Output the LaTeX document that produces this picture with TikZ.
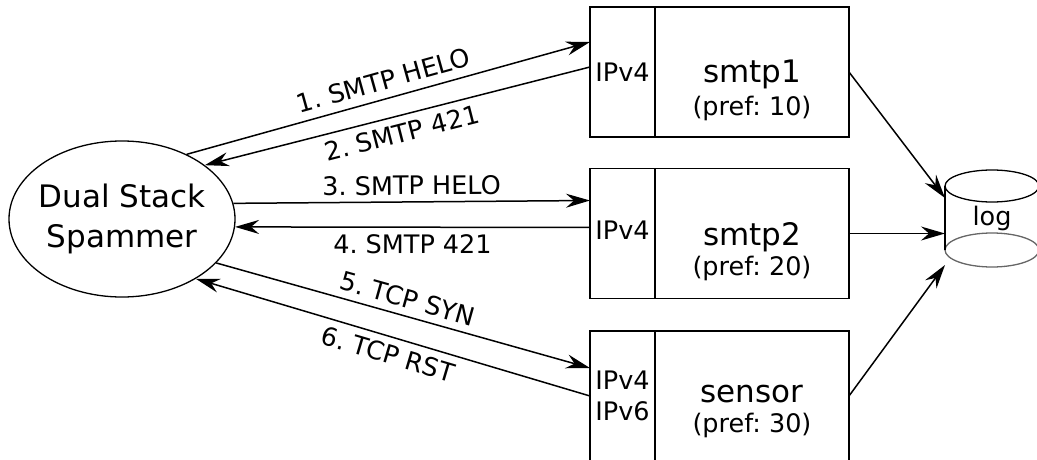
\documentclass[tikz,border=0pt]{standalone}
\usepackage{fontspec}
\setmainfont{DejaVu Sans}
\frenchspacing
\usetikzlibrary{arrows.meta,positioning,shapes.geometric}

\begin{document}
\begin{tikzpicture}[x=1pt,y=-1pt,>={Stealth[length=24pt,width=14pt,inset=8pt]},node distance=0pt]
\tikzstyle{txt}=[font=\fontsize{25.5}{31}\selectfont]
\tikzstyle{big}=[font=\fontsize{31}{40}\selectfont]
\tikzstyle{spam}=[ellipse, draw, line width=1.3pt, minimum width=226pt, minimum height=156pt, inner xsep=-30pt, inner ysep=0pt, align=center, big]
\tikzstyle{ip}=[rectangle, draw, line width=1.5pt, minimum width=65pt, minimum height=130pt, inner sep=0pt, outer sep=0pt, align=center, txt]
\tikzstyle{host}=[rectangle, draw, line width=1.5pt, minimum width=194pt, minimum height=130pt, inner sep=0pt, outer sep=0pt]
\tikzstyle{msg}=[->, line width=1.5pt]
\tikzstyle{lbl}=[txt, sloped, inner sep=3pt]
\useasboundingbox (0,0) rectangle (1037,460);
% spammer
\node[spam] (spam) at (122,219) {Dual Stack\\Spammer};
% servers: address cell + host cell
\node[ip] (ip1) at (622.5,72) {IPv4};
\node[host, right=of ip1] (smtp1) {};
\node[ip] (ip2) at (622.5,233.5) {\raisebox{6pt}{IPv4}};
\node[host, right=of ip2] (smtp2) {};
\node[ip] (ip3) at (622.5,396) {IPv4\\IPv6};
\node[host, right=of ip3] (sensor) {};
\node[big, anchor=base] (n1) at ([yshift=-11pt]smtp1.center) {smtp1};
\node[txt, anchor=base] (p1) at ([yshift=-32pt]n1.base) {(pref: 10)};
\node[big, anchor=base] (n2) at ([yshift=-11.5pt]smtp2.center) {smtp2};
\node[txt, anchor=base] (p2) at ([yshift=-30pt]n2.base) {(pref: 20)};
\node[big, anchor=base] (n3) at ([yshift=-6pt]sensor.center) {sensor};
\node[txt, anchor=base] (p3) at ([yshift=-30pt]n3.base) {(pref: 30)};
% log store
\draw[line width=1.3pt] (992,186) ellipse [x radius=47pt, y radius=16pt];
\draw[line width=1.3pt, black!60] (992,250) ellipse [x radius=47pt, y radius=17pt];
\draw[line width=1.3pt] (945,186) -- (945,250);
\draw[line width=1.3pt] (1039,186) -- (1039,250);
\node[txt] (log) at (992,218) {log};
\coordinate (logA) at (945,198);
\coordinate (logB) at (945,233.5);
\coordinate (logC) at (945,265);
% messages
\draw[msg] (spam.45) -- node[lbl, above=5pt] {1. SMTP HELO} ([yshift=30pt]ip1.west);
\draw[msg] ([yshift=5pt]ip1.west) -- node[lbl, below=4pt] {2. SMTP 421} (spam.33);
\draw[msg] (spam.8) -- node[lbl, above=3pt] {3. SMTP HELO} ([yshift=33pt]ip2.west);
\draw[msg] ([yshift=6pt]ip2.west) -- node[lbl, below=4pt] {4. SMTP 421} (spam.-4);
\draw[msg] (spam.-25) -- node[lbl, above=4pt] {5. TCP SYN} ([yshift=28pt]ip3.west);
\draw[msg] (ip3.west) -- node[lbl, below=4pt] {6. TCP RST} (spam.-39);
% logging
\draw[msg] (smtp1.east) -- (logA);
\draw[msg] (smtp2.east) -- (logB);
\draw[msg] (sensor.east) -- (logC);
\end{tikzpicture}
\end{document}
